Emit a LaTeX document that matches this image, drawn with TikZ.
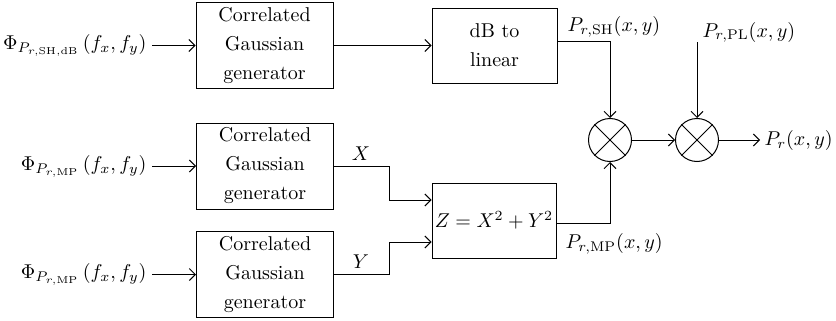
\documentclass[tikz,border=0pt]{standalone}
\usetikzlibrary{arrows.meta}
\begin{document}
\begin{tikzpicture}[x=0.5pt,y=-0.5pt,
  font=\fontsize{10}{14.5}\selectfont,
  line width=0.5pt,
  blk/.style={draw, rectangle, align=center, inner sep=0pt,
    minimum width=68.5pt, minimum height=43pt},
  mult/.style={draw, circle, minimum size=21.5pt, inner sep=0pt},
  conn/.style={-{Straight Barb[length=3pt,width=6pt]}},
  lbl/.style={inner sep=0pt}]
\useasboundingbox (0,0) rectangle (836,321);

% processing blocks
\node[blk] (g1) at (264.5,45.5) {Correlated\\Gaussian\\generator};
\node[blk] (g2) at (265,166) {Correlated\\Gaussian\\generator};
\node[blk] (g3) at (265,274.5) {Correlated\\Gaussian\\generator};
\node[blk, minimum width=62.5pt, minimum height=37.5pt] (db) at (494.5,45.5) {dB to\\linear};
\node[blk, minimum width=62pt, minimum height=37.5pt] (zb) at (494,220.5) {$Z = X^2 + Y^2$};

% multipliers
\node[mult] (m1) at (610,140) {};
\node[mult] (m2) at (697,140) {};
\foreach \m in {m1,m2}
  \draw (\m.north west) -- (\m.south east) (\m.north east) -- (\m.south west);

% input spectra
\node[lbl, anchor=east] (in1) at (147,45.5) {$\Phi_{P_{r,\mathrm{SH,dB}}}\,(f_x, f_y)$};
\node[lbl, anchor=east] (in2) at (147,166) {$\Phi_{P_{r,\mathrm{MP}}}\,(f_x, f_y)$};
\node[lbl, anchor=east] (in3) at (147,274.5) {$\Phi_{P_{r,\mathrm{MP}}}\,(f_x, f_y)$};
\draw[conn] (g1.west -| in1.east) ++(5,0) -- (g1.west);
\draw[conn] (g2.west -| in2.east) ++(5,0) -- (g2.west);
\draw[conn] (g3.west -| in3.east) ++(5,0) -- (g3.west);

% shadowing branch
\draw[conn] (g1) -- (db);
\coordinate (shc) at ([yshift=2.25pt]db.east);
\draw[conn] (shc) -| (m1.north);
\node[lbl, anchor=base west] (lsh) at (567,32) {$P_{r,\mathrm{SH}}(x, y)$};

% multipath branch
\draw[conn] (g2.east) -- ++(55,0) |- ([yshift=10.25pt]zb.west);
\draw[conn] (g3.east) -- ++(55,0) |- ([yshift=-10.75pt]zb.west);
\node[lbl, anchor=base] (lx) at (361,160) {$X$};
\node[lbl, anchor=base] (ly) at (361,268) {$Y$};
\draw[conn] ([yshift=-1.25pt]zb.east) -| (m1.south);
\node[lbl, anchor=base west] (lmp) at (565,248) {$P_{r,\mathrm{MP}}(x, y)$};

% path loss and output
\draw[conn] (m1) -- (m2);
\coordinate (plc) at (697,42);
\draw[conn] (plc) -- (m2.north);
\node[lbl, anchor=base west] (lpl) at (702,37) {$P_{r,\mathrm{PL}}(x, y)$};
\coordinate (pout) at (760,140);
\draw[conn] (m2.east) -- (pout);
\node[lbl, anchor=west] (lout) at (764,140) {$P_r(x, y)$};
\end{tikzpicture}
\end{document}
